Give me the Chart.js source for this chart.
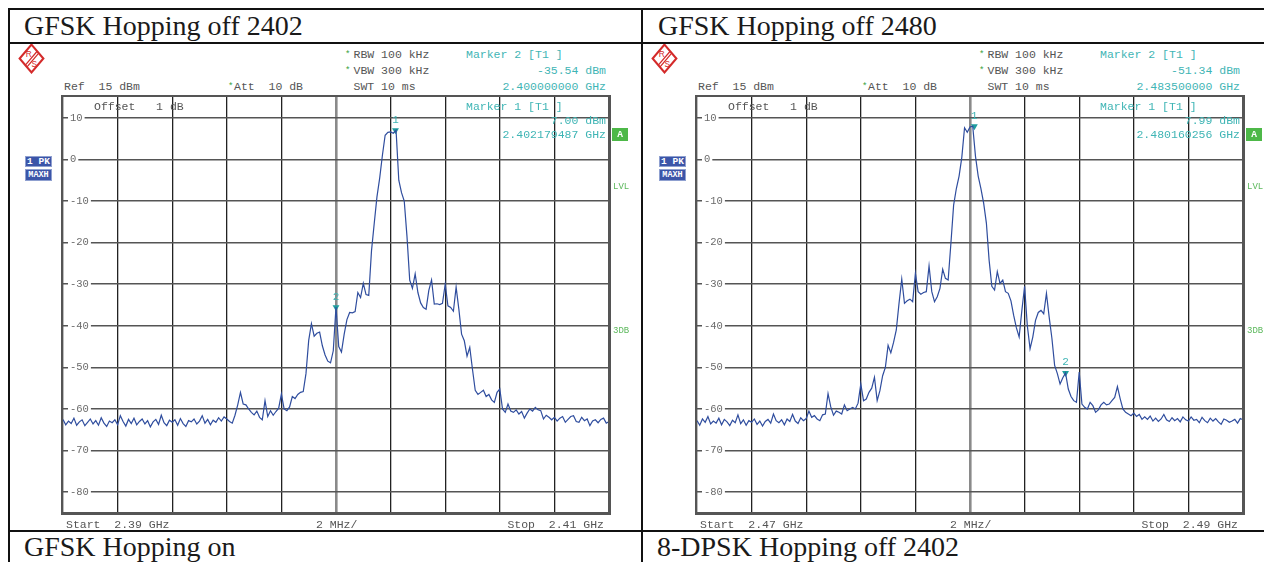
<!DOCTYPE html>
<html>
<head>
<meta charset="utf-8">
<script src="https://cdn.jsdelivr.net/npm/chart.js@4.4.1/dist/chart.umd.min.js"></script>
<style>
  body { margin: 0; background: #fff; width: 1264px; height: 562px; overflow: hidden; position: relative; font-family: "Liberation Mono", monospace; }
  .hl { position: absolute; height: 2px; background: #111; }
  .vl { position: absolute; width: 2px; background: #111; }
  .panel { position: absolute; top: 0; height: 562px; overflow: hidden; }
  .title { position: absolute; font-family: "Liberation Serif", serif; font-size: 28px; line-height: 28px; color: #1a1a1a; white-space: pre; }
  .t { position: absolute; font-size: 11.5px; line-height: 14px; color: #555; white-space: pre; }
  .c { color: #3fb5b5; }
  .star { position: absolute; font-size: 9px; line-height: 10px; color: #35a035; }
  .g { position: absolute; font-size: 9px; line-height: 10px; color: #5cb85c; white-space: pre; }
  .box { position: absolute; font-size: 9.5px; line-height: 11px; color: #fff; text-align: center; font-weight: bold; white-space: pre; }
  .plot { position: absolute; left: 63px; top: 97px; width: 546px; height: 416px; }
  .frame { position: absolute; left: 61px; top: 95px; width: 550px; height: 420px; border: 2px solid #555; border-right-width: 3px; border-bottom-width: 3px; box-sizing: border-box; }
</style>
</head>
<body>
<div id="p0" class="panel" style="left:0;width:641px"></div>
<div id="p1" class="panel" style="left:634px;width:634px"></div>

<div class="hl" style="left:8px;top:8px;width:1256px"></div>
<div class="hl" style="left:8px;top:42px;width:1256px"></div>
<div class="hl" style="left:8px;top:530px;width:1256px"></div>
<div class="vl" style="left:8px;top:8px;height:554px"></div>
<div class="vl" style="left:641px;top:8px;height:554px"></div>

<script>
// y axis (dBm)
const yTicks = [10, 0, -10, -20, -30, -40, -50, -60, -70, -80];
const yMin = -85;
const yMax = 15;
const stepMHz = 0.1;

// panel 1: GFSK hopping off, 2402
const start2402 = 2390;
const stop2402 = 2410;
const trace2402 = [
  -62.5, -63.8, -62.9, -63.5, -62.2, -63.9, -63.1, -62.6, -64.0, -63.2,
  -62.4, -63.6, -62.8, -63.9, -62.1, -63.4, -64.2, -62.9, -63.3, -62.6,
  -63.8, -61.6, -63.0, -64.1, -62.5, -63.5, -62.2, -63.8, -63.0, -62.4,
  -63.6, -62.8, -64.3, -63.1, -62.5, -63.7, -61.5, -63.3, -64.0, -62.7,
  -63.2, -62.6, -63.9, -62.3, -63.5, -64.2, -62.8, -63.1, -62.4, -63.6,
  -62.9, -61.6, -63.4, -62.5, -63.8, -62.7, -63.2, -62.1, -62.9, -61.9,
  -62.4, -63.0, -63.4, -61.5, -59.0, -56.0, -58.8, -59.0, -60.0, -60.8,
  -61.4, -60.5, -62.0, -62.6, -58.0, -61.8, -60.4, -61.5, -60.6, -59.8,
  -56.4, -60.0, -60.4, -59.5, -57.0, -57.5, -56.5, -56.0, -55.8, -51.5,
  -43.5, -39.5, -42.5, -41.8, -41.5, -44.8, -47.0, -48.5, -48.9, -46.0,
  -35.5, -45.0, -46.3, -42.0, -38.5, -36.8, -36.9, -36.6, -32.0, -33.2,
  -29.8, -32.5, -32.7, -22.0, -15.4, -9.0, -4.5, 1.0, 5.8, 6.5,
  6.6, 6.3, 7.0, -5.0, -8.0, -10.0, -18.5, -29.0, -31.0, -27.5,
  -32.0, -34.5, -35.6, -36.0, -31.5, -29.0, -34.8, -34.7, -34.9, -34.6,
  -30.0, -35.2, -35.6, -36.5, -30.7, -36.0, -42.0, -43.6, -47.3, -45.2,
  -50.5, -55.5, -56.5, -56.0, -55.5, -57.0, -56.5, -57.8, -58.4, -56.0,
  -55.2, -60.0, -60.8, -58.8, -60.5, -60.8, -60.2, -61.2, -60.6, -62.2,
  -61.0, -60.0, -60.5, -59.6, -60.2, -60.4, -62.4, -61.5, -62.0, -62.6,
  -62.0, -62.9, -62.2, -61.8, -63.2, -62.5, -61.8, -61.6, -63.0, -63.2,
  -62.0, -62.8, -62.4, -64.0, -62.9, -62.6, -63.3, -62.5, -62.2, -63.4,
  -63.0
];
const markers2402 = [{ x: 2402.179487, y: 7.00 }, { x: 2400.0, y: -35.54 }];

// panel 2: GFSK hopping off, 2480
const start2480 = 2470;
const stop2480 = 2490;
const trace2480 = [
  -62.8, -63.9, -62.4, -63.2, -61.8, -63.6, -62.9, -63.4, -62.2, -63.8,
  -62.5, -63.1, -64.0, -62.7, -63.3, -61.4, -63.5, -62.6, -63.9, -62.8,
  -63.2, -62.4, -63.7, -62.9, -64.1, -63.0, -62.5, -63.4, -61.2, -62.8,
  -63.3, -62.6, -63.8, -62.4, -63.0, -61.3, -62.9, -63.5, -62.1, -62.8,
  -62.3, -60.5, -62.0, -61.6, -62.4, -62.8, -61.4, -61.2, -56.3, -59.5,
  -61.5, -60.5, -60.8, -61.2, -59.0, -60.4, -60.0, -59.6, -60.0, -58.6,
  -54.0, -58.0, -57.6, -56.0, -55.0, -52.4, -58.0, -55.6, -52.0, -50.0,
  -44.7, -46.5, -44.0, -41.0, -34.6, -28.8, -34.6, -34.0, -33.6, -34.2,
  -27.4, -31.8, -32.4, -32.0, -31.8, -25.6, -31.8, -34.2, -33.0, -31.0,
  -26.4, -28.6, -29.0, -20.2, -11.0, -7.0, -4.0, 0.5, 7.6, 6.5,
  7.8, 7.99, 0.8, -4.0, -7.0, -10.5, -15.3, -24.2, -30.5, -31.4,
  -27.0, -29.8, -29.0, -31.8, -32.2, -34.0, -37.5, -40.5, -42.7, -36.3,
  -30.5, -40.0, -45.5, -42.7, -38.7, -36.8, -36.3, -37.1, -32.2, -37.9,
  -43.0, -49.5, -51.5, -54.0, -52.5, -51.34, -55.2, -57.0, -58.0, -58.4,
  -51.1, -58.8, -59.6, -60.0, -58.4, -59.2, -60.8, -60.2, -59.0, -58.4,
  -59.0, -58.8, -58.0, -57.2, -54.6, -57.5, -60.0, -60.8, -61.2, -61.6,
  -61.0, -61.8, -61.3, -62.5, -61.9, -62.5, -61.7, -62.9, -62.2, -63.0,
  -62.4, -61.3, -62.6, -63.0, -62.1, -62.8, -62.3, -63.1, -61.9, -62.6,
  -62.9, -61.9, -62.7, -62.5, -63.3, -62.0, -62.8, -63.3, -62.2, -62.9,
  -62.3, -63.1, -63.7, -62.4, -62.7, -63.2, -62.9, -62.5, -63.4, -62.3,
  -62.6
];
const markers2480 = [{ x: 2480.160256, y: 7.99 }, { x: 2483.5, y: -51.34 }];

const titles = ['GFSK Hopping off 2402', 'GFSK Hopping off 2480'];
const titlesBelow = ['GFSK Hopping on', '8-DPSK Hopping off 2402'];
const markerNames = ['1', '2'];

const panels = [
  { trace: trace2402, start: start2402, stop: stop2402, markers: markers2402 },
  { trace: trace2480, start: start2480, stop: stop2480, markers: markers2480 }
];

function ghz(mhz, digits) {
  return (mhz / 1000).toFixed(digits) + ' GHz';
}

function panelHtml(i) {
  const p = panels[i];
  const m1 = p.markers[0], m2 = p.markers[1];
  return `
  <div class="title" style="left:24px;top:12px">${titles[i]}</div>
  <div class="title" style="left:${i ? 23 : 24}px;top:533px">${titlesBelow[i]}</div>
  <svg width="27" height="31" viewBox="0 0 26 30" style="position:absolute;left:${i ? 17 : 18}px;top:43px">
    <polygon points="13,1.5 24.5,15 13,28.5 1.5,15" fill="none" stroke="#d42a2a" stroke-width="2"/>
    <line x1="18.5" y1="8" x2="7" y2="21.5" stroke="#d42a2a" stroke-width="1.2"/>
    <line x1="20" y1="9.8" x2="8.5" y2="23.3" stroke="#d42a2a" stroke-width="1.2"/>
    <text x="7.5" y="14" font-size="8" fill="#d42a2a" font-family="Liberation Sans">R</text>
    <text x="13" y="23.5" font-size="8" fill="#d42a2a" font-family="Liberation Sans">S</text>
  </svg>
  <div class="star" style="left:345px;top:50px">*</div>
  <div class="t" style="left:353.5px;top:48px">RBW 100 kHz</div>
  <div class="star" style="left:345px;top:65.5px">*</div>
  <div class="t" style="left:353.5px;top:63.5px">VBW 300 kHz</div>
  <div class="t" style="left:64px;top:79.5px">Ref  15 dBm</div>
  <div class="star" style="left:228px;top:81.5px">*</div>
  <div class="t" style="left:234px;top:79.5px">Att  10 dB</div>
  <div class="t" style="left:353.5px;top:79.5px">SWT 10 ms</div>
  <div class="t c" style="left:466px;top:48px">Marker 2 [T1 ]</div>
  <div class="t c" style="left:0;width:606px;text-align:right;top:63.5px">${m2.y.toFixed(2)} dBm</div>
  <div class="t c" style="left:0;width:606px;text-align:right;top:79.5px">${ghz(m2.x, 9)}</div>
  <div class="plot"><canvas id="c${i}"></canvas></div>
  <div class="frame"></div>
  <div class="t" style="left:94px;top:99.5px">Offset   1 dB</div>
  <div class="t c" style="left:466px;top:99.5px">Marker 1 [T1 ]</div>
  <div class="t c" style="left:0;width:606px;text-align:right;top:113.5px">${m1.y.toFixed(2)} dBm</div>
  <div class="t c" style="left:0;width:606px;text-align:right;top:128px">${ghz(m1.x, 9)}</div>
  <div class="box" style="left:612px;top:128px;width:16px;height:13px;line-height:13px;background:#4db848">A</div>
  <div class="box" style="left:25px;top:155.5px;width:27px;height:11.5px;background:#3b55a8;border:1px solid #8fa0d0;box-sizing:border-box;line-height:10px">1 PK</div>
  <div class="box" style="left:25px;top:169px;width:27px;height:11.5px;background:#3b55a8;border:1px solid #8fa0d0;box-sizing:border-box;line-height:10px;font-size:8.5px">MAXH</div>
  <div class="g" style="left:613px;top:182px">LVL</div>
  <div class="g" style="left:613px;top:326px">3DB</div>
  <div class="t" style="left:66px;top:517.5px">Start  ${ghz(p.start, 2)}</div>
  <div class="t" style="left:316px;top:517.5px">2 MHz/</div>
  <div class="t" style="left:0;width:604px;text-align:right;top:517.5px">Stop  ${ghz(p.stop, 2)}</div>
  `;
}

const markerLabels = {
  id: 'markerLabels',
  afterDatasetsDraw(chart) {
    const meta = chart.getDatasetMeta(1);
    const ctx = chart.ctx;
    ctx.save();
    ctx.font = '11px "Liberation Mono", monospace';
    ctx.fillStyle = '#3fb5b5';
    ctx.textAlign = 'center';
    ctx.textBaseline = 'bottom';
    meta.data.forEach((pt, k) => {
      ctx.fillText(markerNames[k], pt.x, pt.y - 5);
    });
    ctx.restore();
  }
};

function makeChart(i) {
  const p = panels[i];
  const center = (p.start + p.stop) / 2;
  const points = p.trace.map((v, k) => ({ x: p.start + k * stepMHz, y: v }));
  const isCenter = c => c.tick && Math.abs(c.tick.value - center) < 0.01;

  new Chart(document.getElementById('c' + i), {
    type: 'line',
    data: {
      datasets: [
        {
          data: points,
          borderColor: '#2f4d9e',
          borderWidth: 1.2,
          pointRadius: 0,
          tension: 0,
          fill: false
        },
        {
          type: 'scatter',
          data: p.markers,
          pointStyle: 'triangle',
          rotation: 180,
          radius: 4,
          backgroundColor: '#1f9e9e',
          borderColor: '#1f9e9e',
          borderWidth: 0,
          clip: false
        }
      ]
    },
    options: {
      animation: false,
      responsive: true,
      maintainAspectRatio: false,
      layout: { padding: 0, autoPadding: false },
      plugins: {
        legend: { display: false },
        tooltip: { enabled: false }
      },
      scales: {
        x: {
          type: 'linear',
          min: p.start,
          max: p.stop,
          ticks: { display: false, stepSize: 2 },
          grid: {
            drawTicks: false,
            color: c => isCenter(c) ? '#8a8a8a' : '#222',
            lineWidth: c => isCenter(c) ? 2.6 : 1.3
          },
          border: { display: false },
          afterFit: s => { s.height = 0; s.paddingLeft = 0; s.paddingRight = 0; s.paddingTop = 0; s.paddingBottom = 0; }
        },
        y: {
          min: yMin,
          max: yMax,
          afterBuildTicks: s => { s.ticks = yTicks.map(v => ({ value: v })); },
          afterFit: s => { s.width = 0; s.paddingTop = 0; s.paddingBottom = 0; s.paddingLeft = 0; s.paddingRight = 0; },
          ticks: {
            mirror: true,
            padding: 7,
            color: '#6a6a6a',
            font: { family: '"Liberation Mono", monospace', size: 10.5 },
            showLabelBackdrop: true,
            backdropColor: '#fff',
            backdropPadding: { left: 2, right: 2, top: 0, bottom: 0 }
          },
          grid: { drawTicks: false, color: '#555', lineWidth: 1.6 },
          border: { display: false }
        }
      }
    },
    plugins: [markerLabels]
  });
}

document.getElementById('p0').innerHTML = panelHtml(0);
document.getElementById('p1').innerHTML = panelHtml(1);
makeChart(0);
makeChart(1);
</script>
</body>
</html>
